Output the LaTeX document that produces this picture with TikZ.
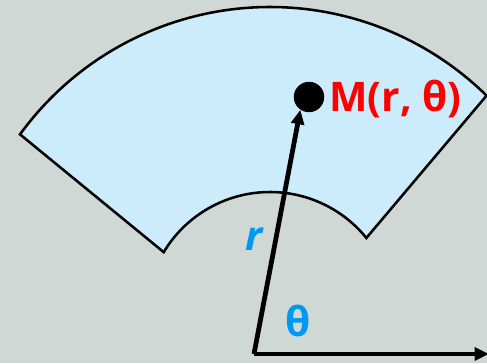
\documentclass[tikz,border=0pt]{standalone}
\usepackage{fontspec}
\setmainfont{Open Sans}
\usepackage{tikz}
\usetikzlibrary{arrows.meta, positioning, calc}
\definecolor{BgGray}{RGB}{207,216,213}
\definecolor{SectorBlue}{RGB}{204,235,251}
\definecolor{LblBlue}{RGB}{0,152,240}
\definecolor{LblRed}{RGB}{255,0,0}
\tikzset{
  sector/.style={draw=black, line width=1.8pt, fill=SectorBlue, line join=miter},
  vec/.style={-{Triangle[length=0.36cm, width=0.32cm]}, draw=black, line width=3.4pt},
  dot/.style={circle, fill=black, inner sep=0pt, minimum size=0.76cm},
  lbl/.style={font=\fontsize{29}{31}\selectfont\bfseries, text=LblBlue, inner sep=0pt}
}
\begin{document}
\begin{tikzpicture}[x=0.025cm, y=0.025cm]
  % Background
  \fill[BgGray] (0,0) rectangle (487,363);
  \useasboundingbox (0,0) rectangle (487,363);

  \coordinate (C) at (270,47);
  \coordinate (O) at (254,9);
  \coordinate (xend) at (489,9);

  % Sector
  \draw[sector] ($(C)+(144:309)$) arc[start angle=144, end angle=45.5, radius=309]
    -- ($(C)+(39:124)$) arc[start angle=39, end angle=149, radius=124] -- cycle;

  % Point M
  \node[dot] (M) at (309,266) {};
  \node[lbl, text=LblRed, anchor=west] (Mlbl) at (329,264) {M(r, θ)};

  % Vectors
  \draw[vec] (O) -- (M.236);
  \draw[vec] (O) -- (xend);

  \node[lbl, font=\fontsize{29}{31}\selectfont\bfseries\itshape] (rlbl) at (254,124) {r};
  \node[lbl] (thlbl) at (298,42) {θ};
\end{tikzpicture}
\end{document}
